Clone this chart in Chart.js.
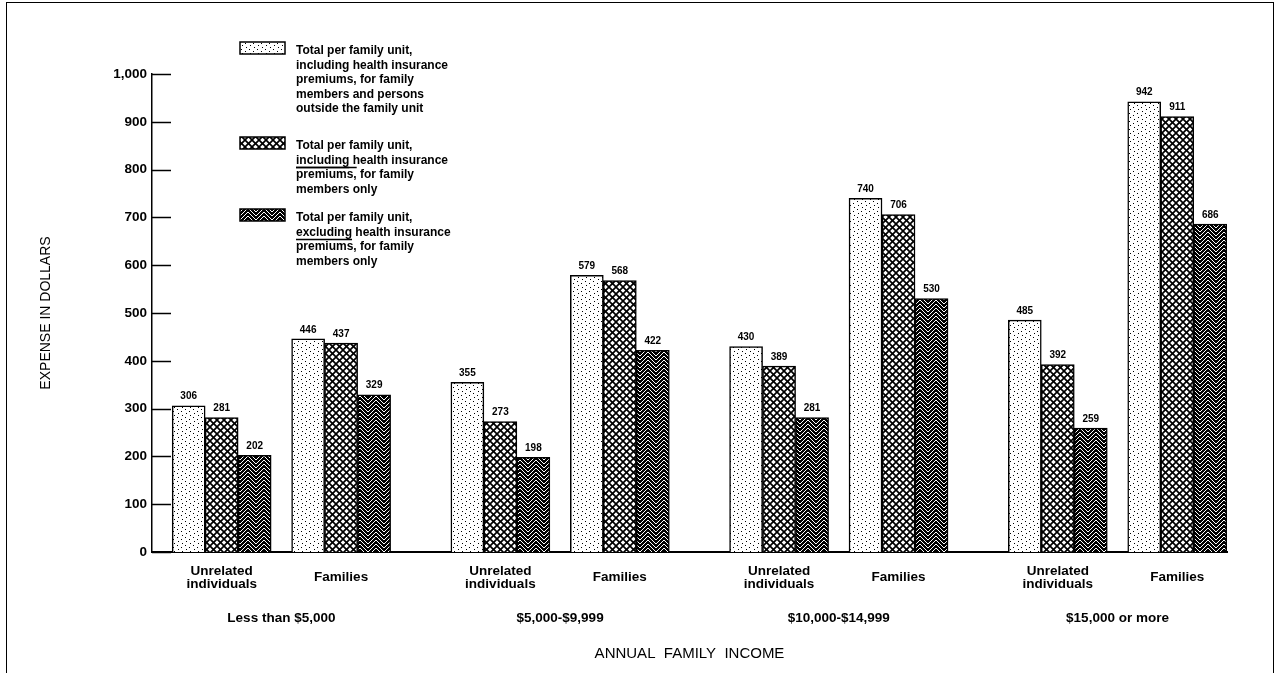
<!DOCTYPE html>
<html>
<head>
<meta charset="utf-8">
<title>Expense per family unit by annual family income</title>
<script src="https://cdn.jsdelivr.net/npm/chart.js@4"></script>
<style>
  html, body { margin: 0; padding: 0; background: #fff; overflow: hidden; }
  canvas { position: absolute; left: 0; top: 0; }
  #frame { position: absolute; left: 6px; top: 2px; width: 1266px; height: 720px; border: 1.5px solid #000; pointer-events: none; }
</style>
</head>
<body>
<canvas id="chart" width="1278" height="673"></canvas>
<div id="frame"></div>
<script>
const incomeGroups = ['Less than $5,000', '$5,000-$9,999', '$10,000-$14,999', '$15,000 or more'];
const unitTypes = [['Unrelated', 'individuals'], 'Families'];

// values per income group, unrelated individuals first, then families
const totalAllPersons   = [306, 446, 355, 579, 430, 740, 485, 942];
const totalFamilyOnly   = [281, 437, 273, 568, 389, 706, 392, 911];
const excludingPremiums = [202, 329, 198, 422, 281, 530, 259, 686];

const yTicks = [0, 100, 200, 300, 400, 500, 600, 700, 800, 900, 1000];

const seriesText = [
    ['Total per family unit,', 'including health insurance', 'premiums, for family', 'members and persons', 'outside the family unit'],
    ['Total per family unit,', 'including health insurance', 'premiums, for family', 'members only'],
    ['Total per family unit,', 'excluding health insurance', 'premiums, for family', 'members only']
];

const FONT = '"Liberation Sans", Arial, Helvetica, sans-serif';
Chart.defaults.font.family = FONT;
Chart.defaults.color = '#000';

// The x axis is cut into narrow slots so the two clusters of one income
// group sit closer together than the clusters of neighbouring groups.
const LEAD_SLOTS = 3, PAIR_STEP = 6, GROUP_STEP = 14, SLOT_COUNT = 54;
const slotOf = (g, t) => LEAD_SLOTS + g * GROUP_STEP + t * PAIR_STEP;

const slotLabels = new Array(SLOT_COUNT).fill('');
const groupLabels = new Array(SLOT_COUNT).fill('');
incomeGroups.forEach((name, g) => {
    groupLabels[slotOf(g, 0) + PAIR_STEP / 2] = name;
    unitTypes.forEach((u, t) => { slotLabels[slotOf(g, t)] = u; });
});

function toSlots(values) {
    const out = new Array(SLOT_COUNT).fill(null);
    values.forEach((v, i) => { out[slotOf(Math.floor(i / 2), i % 2)] = v; });
    return out;
}

const ctx = document.getElementById('chart').getContext('2d');

// Small canvas tiles used as fill patterns
function tile(w, h, paint) {
    const c = document.createElement('canvas');
    c.width = w;
    c.height = h;
    paint(c.getContext('2d'), w, h);
    return ctx.createPattern(c, 'repeat');
}

const stipple = tile(8, 8, (g, w, h) => {
    g.fillStyle = '#fff';
    g.fillRect(0, 0, w, h);
    g.fillStyle = '#000';
    [[1, 1], [5, 3], [2, 5], [6, 7]].forEach(([x, y]) => g.fillRect(x, y, 1, 1));
});

const crosshatch = tile(7, 7, (g, w, h) => {
    g.fillStyle = '#fff';
    g.fillRect(0, 0, w, h);
    g.strokeStyle = '#000';
    g.lineWidth = 1.7;
    for (const dx of [-w, 0, w]) {
        g.beginPath(); g.moveTo(dx, 0); g.lineTo(dx + w, h); g.stroke();
        g.beginPath(); g.moveTo(dx + w, 0); g.lineTo(dx, h); g.stroke();
    }
});

const zigzag = tile(16, 4, (g, w, h) => {
    g.fillStyle = '#000';
    g.fillRect(0, 0, w, h);
    g.strokeStyle = '#fff';
    g.lineWidth = 1;
    for (let k = -3; k <= 3; k++) {
        const y0 = k * h;
        g.beginPath();
        g.moveTo(0, y0 + 8);
        g.lineTo(w / 2, y0);
        g.lineTo(w, y0 + 8);
        g.stroke();
    }
});

// Short tick marks drawn inside the plot, right of the value axis
const insideTicks = {
    id: 'insideTicks',
    afterDraw(chart) {
        const y = chart.scales.y, c = chart.ctx;
        c.save();
        c.strokeStyle = '#000';
        c.lineWidth = 1.5;
        y.ticks.forEach(t => {
            const py = Math.round(y.getPixelForValue(t.value)) + 0.5;
            c.beginPath();
            c.moveTo(y.right, py);
            c.lineTo(y.right + 19, py);
            c.stroke();
        });
        c.restore();
    }
};

// Value printed above each bar
const barValues = {
    id: 'barValues',
    afterDatasetsDraw(chart) {
        const c = chart.ctx;
        c.save();
        c.font = 'bold 10px ' + FONT;
        c.fillStyle = '#000';
        c.textAlign = 'center';
        c.textBaseline = 'middle';
        chart.data.datasets.forEach((ds, i) => {
            chart.getDatasetMeta(i).data.forEach((bar, j) => {
                const v = ds.data[j];
                if (v === null || v === undefined) return;
                c.fillText(String(v), bar.x, bar.y - 9);
            });
        });
        c.restore();
    }
};

// Legend with pattern swatches and multi-line text
const patternLegend = {
    id: 'patternLegend',
    afterDraw(chart, args, opts) {
        const c = chart.ctx;
        const lh = opts.lineHeight;
        c.save();
        c.font = 'bold 12px ' + FONT;
        c.textBaseline = 'middle';
        c.lineWidth = 1.5;
        chart.data.datasets.forEach((ds, i) => {
            const top = opts.tops[i];
            c.fillStyle = ds.backgroundColor;
            c.fillRect(opts.x, top - 9, 45, 12);
            c.strokeStyle = '#000';
            c.strokeRect(opts.x, top - 9, 45, 12);
            c.fillStyle = '#000';
            const tx = opts.x + opts.textGap;
            seriesText[i].forEach((line, j) => c.fillText(line, tx, top + j * lh));
            (opts.marks[i] || []).forEach(([line, word, side]) => {
                const ly = top + line * lh + (side > 0 ? 7 : -7.5);
                c.beginPath();
                c.moveTo(tx, ly);
                c.lineTo(tx + c.measureText(word).width, ly);
                c.stroke();
            });
        });
        c.restore();
    }
};

const barStyle = { borderColor: '#000', borderWidth: 1.5, barThickness: 33 };

new Chart(ctx, {
    type: 'bar',
    data: {
        labels: slotLabels,
        datasets: [
            { label: seriesText[0].join(' '), data: toSlots(totalAllPersons), backgroundColor: stipple, ...barStyle },
            { label: seriesText[1].join(' '), data: toSlots(totalFamilyOnly), backgroundColor: crosshatch, ...barStyle },
            { label: seriesText[2].join(' '), data: toSlots(excludingPremiums), backgroundColor: zigzag, ...barStyle }
        ]
    },
    options: {
        responsive: false,
        animation: false,
        events: [],
        layout: { padding: { top: 74, right: 51, bottom: 0, left: 0 } },
        plugins: {
            legend: { display: false },
            tooltip: { enabled: false },
            patternLegend: {
                x: 240,
                textGap: 56,
                lineHeight: 14.5,
                tops: [51, 146, 218],
                marks: [[], [[1, 'including', 1], [2, 'premiums,', -1]], [[1, 'excluding', 1]]]
            }
        },
        scales: {
            x: {
                type: 'category',
                position: 'bottom',
                weight: 0,
                offset: true,
                grid: { display: false, drawTicks: false },
                border: { display: true, color: '#000', width: 2 },
                ticks: {
                    autoSkip: false,
                    maxRotation: 0,
                    minRotation: 0,
                    crossAlign: 'center',
                    padding: 19,
                    font: { size: 13.5, weight: 'bold', lineHeight: 1 }
                },
                afterFit: scale => { scale.height = 39; }
            },
            x2: {
                type: 'category',
                position: 'bottom',
                weight: 1,
                labels: groupLabels,
                offset: true,
                grid: { display: false, drawTicks: false },
                border: { display: false },
                ticks: {
                    autoSkip: false,
                    maxRotation: 0,
                    minRotation: 0,
                    padding: 19,
                    font: { size: 13.5, weight: 'bold' }
                },
                title: {
                    display: true,
                    text: 'ANNUAL  FAMILY  INCOME',
                    font: { size: 15 },
                    padding: { top: 0, bottom: 10 }
                },
                afterFit: scale => { scale.height = 82; }
            },
            y: {
                min: 0,
                max: 1000,
                afterBuildTicks: scale => { scale.ticks = yTicks.map(v => ({ value: v })); },
                grid: { display: false, drawTicks: false },
                border: { display: true, color: '#000', width: 1.5 },
                ticks: {
                    padding: 5,
                    font: { size: 13.5, weight: 'bold' },
                    callback: value => value.toLocaleString('en-US')
                },
                title: {
                    display: true,
                    text: 'EXPENSE IN DOLLARS',
                    font: { size: 14 },
                    padding: { top: 38, bottom: 0 }
                },
                afterFit: scale => { scale.width = 152; }
            }
        }
    },
    plugins: [insideTicks, barValues, patternLegend]
});
</script>
</body>
</html>
